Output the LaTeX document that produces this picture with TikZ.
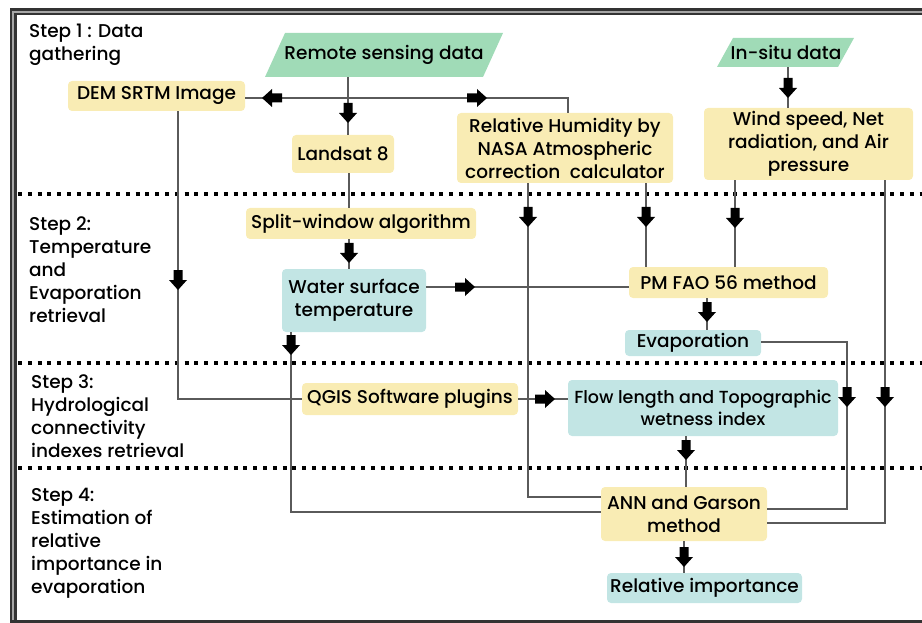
\documentclass[tikz,border=0pt]{standalone}
\usepackage{fontspec}
\setmainfont{Poppins}[UprightFont={* Medium}]
\definecolor{boxyellow}{RGB}{249,236,180}
\definecolor{boxgreen}{RGB}{160,219,183}
\definecolor{boxteal}{RGB}{194,229,228}
\definecolor{linegray}{RGB}{90,90,90}
\tikzset{
  every node/.style={font=\fontsize{18.5}{23}\selectfont, text=black, inner sep=0pt},
  ybox/.style={fill=boxyellow, rounded corners=4pt, align=center},
  tbox/.style={fill=boxteal, rounded corners=4pt, align=center},
  gbox/.style={align=center},
  conn/.style={draw=linegray, line width=1.2pt},
  sep/.style={line width=4pt, dash pattern=on 4pt off 5.8pt, black},
  steplabel/.style={anchor=north west, align=left},
  barrowD/.pic={\fill[black] (0,0) -- (-9,-10) -- (-4.5,-10) -- (-4.5,-20) -- (4.5,-20) -- (4.5,-10) -- (9,-10) -- cycle;},
  barrowR/.pic={\fill[black] (0,0) -- (-10,-9) -- (-10,-4.5) -- (-20,-4.5) -- (-20,4.5) -- (-10,4.5) -- (-10,9) -- cycle;},
  barrowL/.pic={\fill[black] (0,0) -- (10,-9) -- (10,-4.5) -- (20,-4.5) -- (20,4.5) -- (10,4.5) -- (10,9) -- cycle;},
}
\begin{document}
\begin{tikzpicture}[x=1pt, y=-1pt]
\useasboundingbox (0,0) rectangle (922,623);
% frame
\draw[line width=7pt, black!80] (922,11.75) -- (13.25,11.75) -- (13.25,621.5);
\draw[line width=2.2pt, black!35] (922,11.75) -- (13.25,11.75) -- (13.25,621.5);
\draw[line width=2.5pt, black!80] (10,621.5) -- (922,621.5);
% separators
\draw[sep] (18,194) -- (922,194);
\draw[sep] (18,363) -- (922,363);
\draw[sep] (18,468) -- (922,468);
% step labels
\node[steplabel] (s1) at (29,24) {Step 1 : Data\\gathering};
\node[steplabel] (s2) at (29,217) {Step 2:\\Temperature\\and\\Evaporation\\retrieval};
\node[steplabel] (s3) at (31,374) {Step 3:\\Hydrological\\connectivity\\indexes retrieval};
\node[steplabel] (s4) at (31,488) {Step 4:\\Estimation of\\relative\\importance in\\evaporation};
% nodes
\node[gbox, minimum width=218pt, minimum height=44pt] (rs) at (384,55) {Remote sensing data};
\fill[boxgreen] (265,77) -- (285,33) -- (503,33) -- (483,77) -- cycle;
\node[gbox, minimum width=122pt, minimum height=29pt] (insitu) at (786,52.5) {In-situ data};
\fill[boxgreen] (717,67) -- (733,38) -- (854,38) -- (838,67) -- cycle;
\node[ybox, minimum width=177pt, minimum height=30pt] (dem) at (156.5,96) {DEM SRTM Image};
\node[ybox, minimum width=102pt, minimum height=38pt] (landsat) at (343,154) {Landsat 8};
\node[ybox, minimum width=216pt, minimum height=70pt] (rh) at (565,148) {Relative Humidity by\\NASA Atmospheric\\correction\ \ calculator};
\node[ybox, minimum width=209pt, minimum height=72pt] (wind) at (808.5,144) {Wind speed, Net\\radiation, and Air\\pressure};
\node[ybox, minimum width=230pt, minimum height=31pt] (split) at (361,223.5) {Split-window algorithm};
\node[tbox, minimum width=144pt, minimum height=63pt] (wst) at (354,300.5) {Water surface\\temperature};
\node[ybox, minimum width=199pt, minimum height=31pt] (pm) at (728.5,282.5) {PM FAO 56 method};
\node[tbox, minimum width=136pt, minimum height=26pt] (evap) at (693,343) {Evaporation};
\node[ybox, minimum width=216pt, minimum height=32pt] (qgis) at (410,399) {QGIS Software plugins};
\node[tbox, minimum width=270pt, minimum height=56pt, font=\fontsize{17.5}{22}\selectfont] (flow) at (703,408) {Flow length and Topographic\\wetness index};
\node[ybox, minimum width=166pt, minimum height=54pt] (ann) at (684,514) {ANN and Garson\\method};
\node[tbox, minimum width=195pt, minimum height=30pt] (ri) at (704.5,588) {Relative importance};
% redraw texts of parallelograms above fill
\node[gbox] at (rs.center) {Remote sensing data};
\node[gbox] at (insitu.center) {In-situ data};
% connectors
\draw[conn] (rs.south -| 348,0) -- (landsat.north -| 348,0);
\pic at (348,123) {barrowD};
\draw[conn] (dem.east |- 0,98) -- (568,98) -- (rh.north -| 568,0);
\pic at (262,98) {barrowL};
\pic at (487,98) {barrowR};
\draw[conn] (insitu.south -| 788,0) -- (wind.north -| 788,0);
\pic at (788,98) {barrowD};
\draw[conn] (dem.south -| 178,0) -- (178,399) -- (qgis.west);
\pic at (178,290) {barrowD};
\draw[conn] (landsat.south -| 349,0) -- (split.north -| 349,0);
\draw[conn] (split.south -| 349,0) -- (wst.north -| 349,0);
\pic at (349,263) {barrowD};
\draw[conn] (wst.east |- 0,287) -- (pm.west |- 0,287);
\pic at (475,287) {barrowR};
\draw[conn] (rh.south -| 646,0) -- (pm.north -| 646,0);
\pic at (646,227) {barrowD};
\draw[conn] (wind.south -| 735,0) -- (pm.north -| 735,0);
\pic at (735,228) {barrowD};
\draw[conn] (rh.south -| 528,0) -- (528,497) -- (ann.west |- 0,497);
\pic at (528,227) {barrowD};
\draw[conn] (wind.south -| 885,0) -- (885,523) -- (ann.east |- 0,523);
\pic at (885,407) {barrowD};
\draw[conn] (wst.south -| 291,0) -- (291,512) -- (ann.west |- 0,512);
\pic at (291,355) {barrowD};
\draw[conn] (pm.south -| 707,0) -- (evap.north -| 707,0);
\pic at (707,322) {barrowD};
\draw[conn] (evap.east |- 0,342) -- (847,342) -- (847,509) -- (ann.east |- 0,509);
\pic at (847,407) {barrowD};
\draw[conn] (qgis.east) -- (flow.west |- qgis.east);
\pic at (555,399) {barrowR};
\draw[conn] (flow.south -| 686,0) -- (ann.north -| 686,0);
\pic at (686,460) {barrowD};
\draw[conn] (ann.south -| 684,0) -- (ri.north -| 684,0);
\pic at (684,567) {barrowD};
\end{tikzpicture}
\end{document}
